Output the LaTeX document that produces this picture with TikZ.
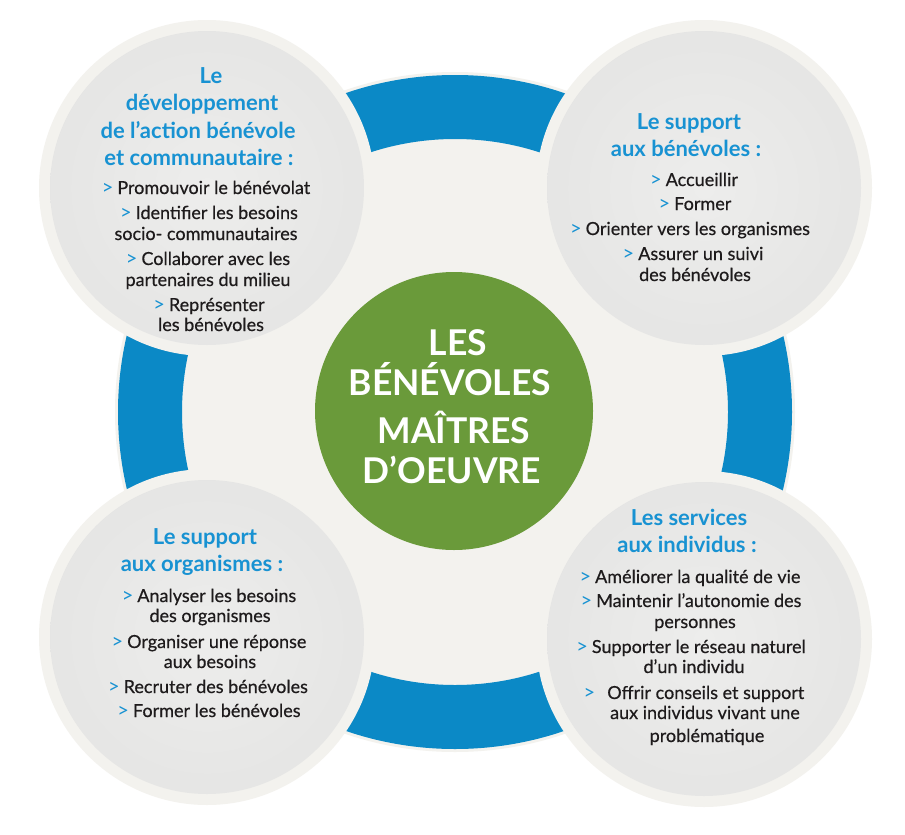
\documentclass[tikz,border=0pt]{standalone}
\usepackage{fontspec}
\setmainfont{Lato}
\newfontfamily\bodyfont[FakeBold=0.5]{Lato}
\definecolor{ringblue}{RGB}{11,137,198}
\definecolor{txtblue}{RGB}{24,146,210}
\definecolor{paper}{RGB}{243,242,238}
\definecolor{leaf}{RGB}{106,154,58}
\definecolor{ink}{RGB}{30,27,28}
\definecolor{greyc}{RGB}{237,237,236}
\definecolor{greym}{RGB}{228,228,227}
\definecolor{greye}{RGB}{210,210,209}
\pgfdeclareradialshading{greyball}{\pgfpoint{0bp}{0bp}}{color(0bp)=(greyc); color(30bp)=(greym); color(50bp)=(greye); color(52bp)=(greye)}
\newcommand{\chev}{{\rmfamily\mdseries\color{txtblue}\fontsize{20}{21}\selectfont>}\hspace{4pt}}
\tikzset{
  title/.style={font=\bfseries\fontsize{22}{26}\selectfont, text=txtblue, anchor=base, inner sep=0pt},
  item/.style={font=\bodyfont\fontsize{18}{21}\selectfont, text=ink, anchor=base, inner sep=0pt},
  big/.style={font=\bfseries\fontsize{35.5}{40}\selectfont, text=white, anchor=base, inner sep=0pt},
  rim/.style={fill=paper},
  ball/.style={shading=greyball},
}
\begin{document}
\begin{tikzpicture}[x=1pt,y=-1pt]
\useasboundingbox (0,0) rectangle (905,835);
\fill[white] (0,0) rectangle (905,835);
% ring
\fill[paper] (455,412) circle (340pt);
\fill[ringblue, even odd rule] (455,412) circle (337pt) (455,412) circle (273pt);
% four circles
\fill[rim] (207,188) circle (168pt);
\shade[ball] (207,188) circle (157pt);
\fill[rim] (704,188) circle (168pt);
\shade[ball] (704,188) circle (157pt);
\fill[rim] (207,637) circle (168pt);
\shade[ball] (207,637) circle (157pt);
\fill[rim] (704,639) circle (168pt);
\shade[ball] (704,639) circle (157pt);
% green centre
\fill[leaf] (454,411) circle (139pt);
\node[big] (c1) at (458,355) {LES};
\node[big] (c2) at (450,395) {BÉNÉVOLES};
\node[big] (c3) at (454,443) {MAÎTRES};
\node[big] (c4) at (452,483) {D’OEUVRE};
% top left
\node[title] (a1) at (211,83) {Le};
\node[title] (a2) at (202,110) {développement};
\node[title] (a3) at (198,138) {de l’action bénévole};
\node[title] (a4) at (199,165) {et communautaire :};
\node[item] (a5) at (206,194) {\chev Promouvoir le bénévolat};
\node[item] (a6) at (209,219) {\chev Identifier les besoins};
\node[item] (a7) at (206,240) {socio- communautaires};
\node[item] (a8) at (208,265) {\chev Collaborer avec les};
\node[item] (a9) at (208,286) {partenaires du milieu};
\node[item] (a10) at (209,311) {\chev Représenter};
\node[item] (a11) at (211,331) {les bénévoles};
% top right
\node[title] (b1) at (689,129) {Le support};
\node[title] (b2) at (686,156) {aux bénévoles :};
\node[item] (b3) at (694,186) {\chev Accueillir};
\node[item] (b4) at (695,210) {\chev Former};
\node[item] (b5) at (690,235) {\chev Orienter vers les organismes};
\node[item] (b6) at (693,260) {\chev Assurer un suivi};
\node[item] (b7) at (695,281) {des bénévoles};
% bottom left
\node[title] (d1) at (205,544) {Le support};
\node[title] (d2) at (202,571) {aux organismes :};
\node[item] (d3) at (209,602) {\chev Analyser les besoins};
\node[item] (d4) at (210,622) {des organismes};
\node[item] (d5) at (209,648) {\chev Organiser une réponse};
\node[item] (d6) at (210,668) {aux besoins};
\node[item] (d7) at (208,693) {\chev Recruter des bénévoles};
\node[item] (d8) at (209,717) {\chev Former les bénévoles};
% bottom right
\node[title] (e1) at (689,525) {Les services};
\node[title] (e2) at (687,552) {aux individus :};
\node[item] (e3) at (690,583) {\chev Améliorer la qualité de vie};
\node[item] (e4) at (691,607) {\chev Maintenir l’autonomie des};
\node[item] (e5) at (695,628) {personnes};
\node[item] (e6) at (691,653) {\chev Supporter le réseau naturel};
\node[item] (e7) at (694,673) {d’un individu};
\node[item] (e8) at (694,699) {\chev\hspace{8pt}Offrir conseils et support};
\node[item] (e9) at (705,719) {aux individus vivant une};
\node[item] (e10) at (707,742) {problématique};
\end{tikzpicture}
\end{document}
